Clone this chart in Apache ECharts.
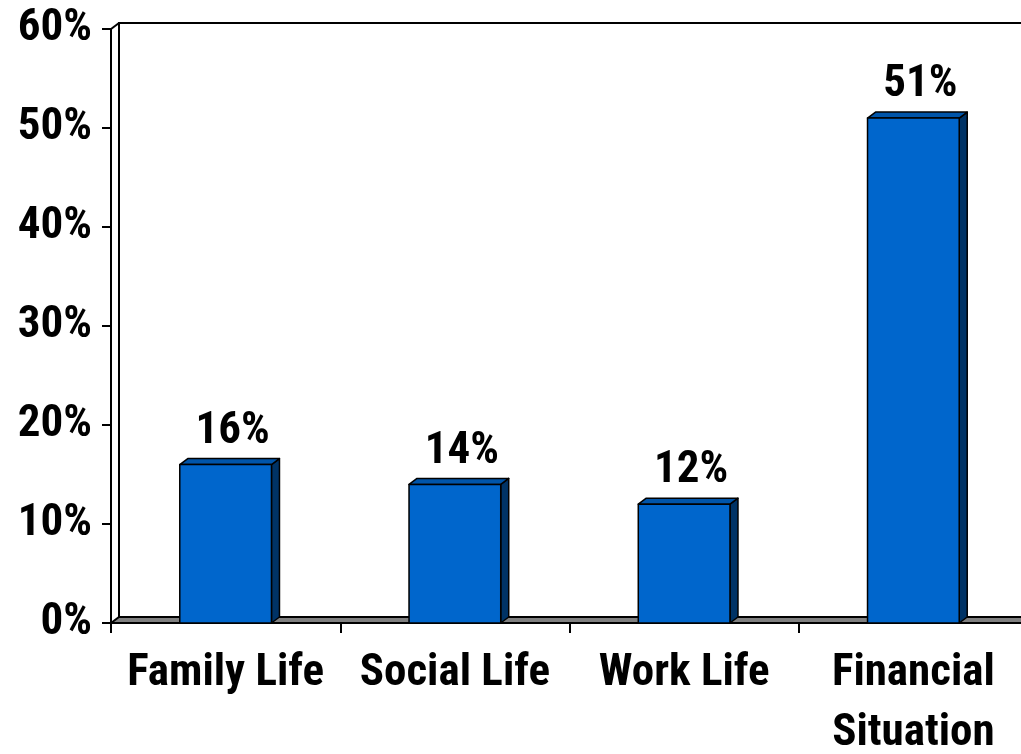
<!DOCTYPE html>
<html>
<head>
<meta charset="utf-8">
<script src="https://cdn.jsdelivr.net/npm/echarts@6/dist/echarts.min.js"></script>
<style>
  html, body { margin: 0; padding: 0; background: #ffffff; }
  #chart { width: 1021px; height: 754px; }
</style>
</head>
<body>
<div id="chart"></div>
<script>
// Share of respondents per life area (percent)
const categories = ['Family Life', 'Social Life', 'Work Life', 'Financial\nSituation'];
const shares = [16, 14, 12, 51];
const yMin = 0;
const yMax = 60;
const yStep = 10;

// Pseudo-3D depth of the bars and the chart walls, in pixels
const DX = 8;
const DY = 6;
const FAMILY = '"Roboto Condensed", "Liberation Sans Narrow", "Arial Narrow", sans-serif';
const FONT = 'bold 45px ' + FAMILY;

const chart = echarts.init(document.getElementById('chart'));

// Back wall and grey floor behind the bars
function renderFrame(params, api) {
  const cs = params.coordSys;
  const x0 = cs.x;
  const x1 = cs.x + cs.width;
  const yTop = api.coord([0, yMax])[1];
  const yBase = api.coord([0, yMin])[1];
  return {
    type: 'group',
    children: [
      {
        type: 'polygon',
        shape: { points: [[x0, yBase], [x0 + DX, yBase - DY], [x1 + DX, yBase - DY], [x1, yBase]] },
        style: { fill: '#808080', stroke: '#000', lineWidth: 2 }
      },
      {
        type: 'polyline',
        shape: { points: [[x0 + DX, yBase - DY], [x0 + DX, yTop - DY], [x1 + DX, yTop - DY]] },
        style: { fill: null, stroke: '#000', lineWidth: 2 }
      },
      {
        type: 'line',
        shape: { x1: x0, y1: yTop, x2: x0 + DX, y2: yTop - DY },
        style: { stroke: '#000', lineWidth: 2 }
      }
    ]
  };
}

// One box-shaped bar: front face, top face, right side face and value label
function renderBar(params, api) {
  const idx = api.value(0);
  const v = api.value(1);
  const top = api.coord([idx, v]);
  const base = api.coord([idx, yMin]);
  const bw = api.size([1, 0])[0] * 0.4;
  const xl = top[0] - bw / 2;
  const xr = top[0] + bw / 2;
  const yt = top[1];
  const yb = base[1];
  const edge = { stroke: '#000', lineWidth: 1.5, lineJoin: 'round' };
  return {
    type: 'group',
    children: [
      {
        type: 'polygon',
        shape: { points: [[xr, yt], [xr + DX, yt - DY], [xr + DX, yb - DY], [xr, yb]] },
        style: Object.assign({ fill: '#003366' }, edge)
      },
      {
        type: 'polygon',
        shape: { points: [[xl, yt], [xl + DX, yt - DY], [xr + DX, yt - DY], [xr, yt]] },
        style: Object.assign({ fill: '#0055AA' }, edge)
      },
      {
        type: 'rect',
        shape: { x: xl, y: yt, width: bw, height: yb - yt },
        style: Object.assign({ fill: '#0066CC' }, edge)
      },
      {
        type: 'text',
        x: top[0] + 7,
        y: yt - 33,
        style: {
          text: v + '%',
          font: FONT,
          fill: '#000',
          align: 'center',
          verticalAlign: 'middle'
        }
      }
    ]
  };
}

chart.setOption({
  backgroundColor: '#ffffff',
  animation: false,
  grid: {
    left: 111,
    top: 29,
    width: 917,
    height: 594,
    containLabel: false,
    outerBoundsMode: 'none'
  },
  xAxis: {
    type: 'category',
    data: categories,
    boundaryGap: true,
    axisLine: { show: true, lineStyle: { color: '#000', width: 2 } },
    axisTick: { show: true, length: 10, lineStyle: { color: '#000', width: 2 } },
    axisLabel: {
      margin: 21,
      color: '#000',
      fontSize: 45,
      fontWeight: 'bold',
      fontFamily: FAMILY,
      lineHeight: 60,
      interval: 0,
      hideOverlap: false
    },
    splitLine: { show: false }
  },
  yAxis: {
    type: 'value',
    min: yMin,
    max: yMax,
    interval: yStep,
    axisLine: { show: true, lineStyle: { color: '#000', width: 2 } },
    axisTick: { show: true, length: 9, lineStyle: { color: '#000', width: 2 } },
    axisLabel: {
      margin: 19,
      color: '#000',
      fontSize: 45,
      fontWeight: 'bold',
      fontFamily: FAMILY,
      formatter: '{value}%'
    },
    splitLine: { show: false }
  },
  series: [
    {
      type: 'custom',
      name: 'frame',
      renderItem: renderFrame,
      data: [[0, 0]],
      encode: { x: 0, y: 1 },
      silent: true,
      z: 1
    },
    {
      type: 'custom',
      name: 'share',
      renderItem: renderBar,
      data: shares.map((v, i) => [i, v]),
      encode: { x: 0, y: 1 },
      z: 2
    }
  ]
});
</script>
</body>
</html>
